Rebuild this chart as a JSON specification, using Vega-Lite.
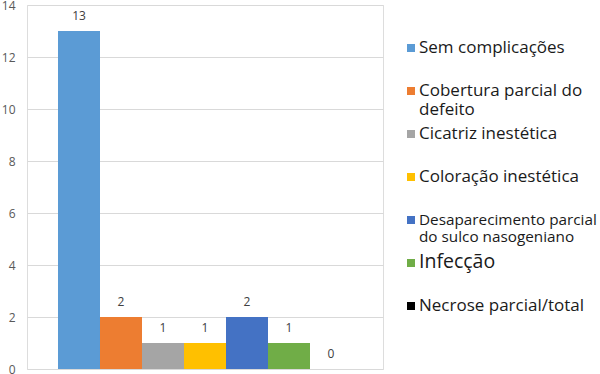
{
  "$schema": "https://vega.github.io/schema/vega-lite/v6.json",
  "width": 356,
  "height": 364,
  "autosize": {"type": "none"},
  "padding": {"left": 27, "top": 5, "right": 217, "bottom": 5},
  "background": "white",
  "data": {
    "values": [
      {"cat": "Sem complicações", "n": 13},
      {"cat": "Cobertura parcial do defeito", "n": 2},
      {"cat": "Cicatriz inestética", "n": 1},
      {"cat": "Coloração inestética", "n": 1},
      {"cat": "Desaparecimento parcial do sulco nasogeniano", "n": 2},
      {"cat": "Infecção", "n": 1},
      {"cat": "Necrose parcial/total", "n": 0}
    ]
  },
  "encoding": {
    "x": {
      "field": "cat",
      "type": "nominal",
      "sort": null,
      "scale": {"paddingInner": 0, "paddingOuter": 0.738},
      "axis": null
    },
    "y": {
      "field": "n",
      "type": "quantitative",
      "scale": {"domain": [0, 14], "nice": false},
      "axis": {
        "title": null,
        "values": [0, 2, 4, 6, 8, 10, 12, 14],
        "domain": false,
        "ticks": false,
        "gridColor": "#d9d9d9",
        "gridWidth": 1,
        "labelColor": "#595959",
        "labelFont": "Open Sans",
        "labelFontSize": 12,
        "labelPadding": 12
      }
    }
  },
  "layer": [
    {
      "mark": {"type": "bar"},
      "encoding": {
        "color": {
          "field": "cat",
          "type": "nominal",
          "sort": null,
          "scale": {
            "range": ["#5B9BD5", "#ED7D31", "#A5A5A5", "#FFC000", "#4472C4", "#70AD47", "#000000"]
          },
          "legend": {
            "title": null,
            "orient": "none",
            "legendX": 377,
            "legendY": 29,
            "padding": 0,
            "symbolType": "square",
            "symbolSize": 64,
            "symbolStrokeWidth": 0,
            "labelFont": "Open Sans",
            "labelFontSize": 17,
            "labelColor": "#1a1a1a",
            "labelBaseline": "alphabetic",
            "labelLineHeight": 16,
            "labelLimit": 400,
            "rowPadding": 0,
            "clipHeight": 42.9,
            "labelExpr": "datum.label == 'Cobertura parcial do defeito' ? ['Cobertura parcial do', 'defeito'] : datum.label == 'Desaparecimento parcial do sulco nasogeniano' ? ['Desaparecimento parcial', 'do sulco nasogeniano'] : datum.label",
            "encode": {
              "entries": {"update": {"clip": {"value": true}, "width": {"value": 220}}},
              "symbols": {"update": {"x": {"value": 7}, "y": {"value": 14}}},
              "labels": {
                "update": {
                  "x": {"value": 15},
                  "y": {"value": 19},
                  "fontSize": {"signal": "datum.value == 'Infecção' ? 19.5 : datum.value == 'Desaparecimento parcial do sulco nasogeniano' ? 15.3 : 17"}
                }
              }
            }
          }
        }
      }
    },
    {
      "mark": {"type": "text", "baseline": "middle", "dy": -15, "font": "Open Sans", "fontSize": 12, "color": "#404040"},
      "encoding": {"text": {"field": "n", "type": "quantitative"}}
    }
  ]
}
